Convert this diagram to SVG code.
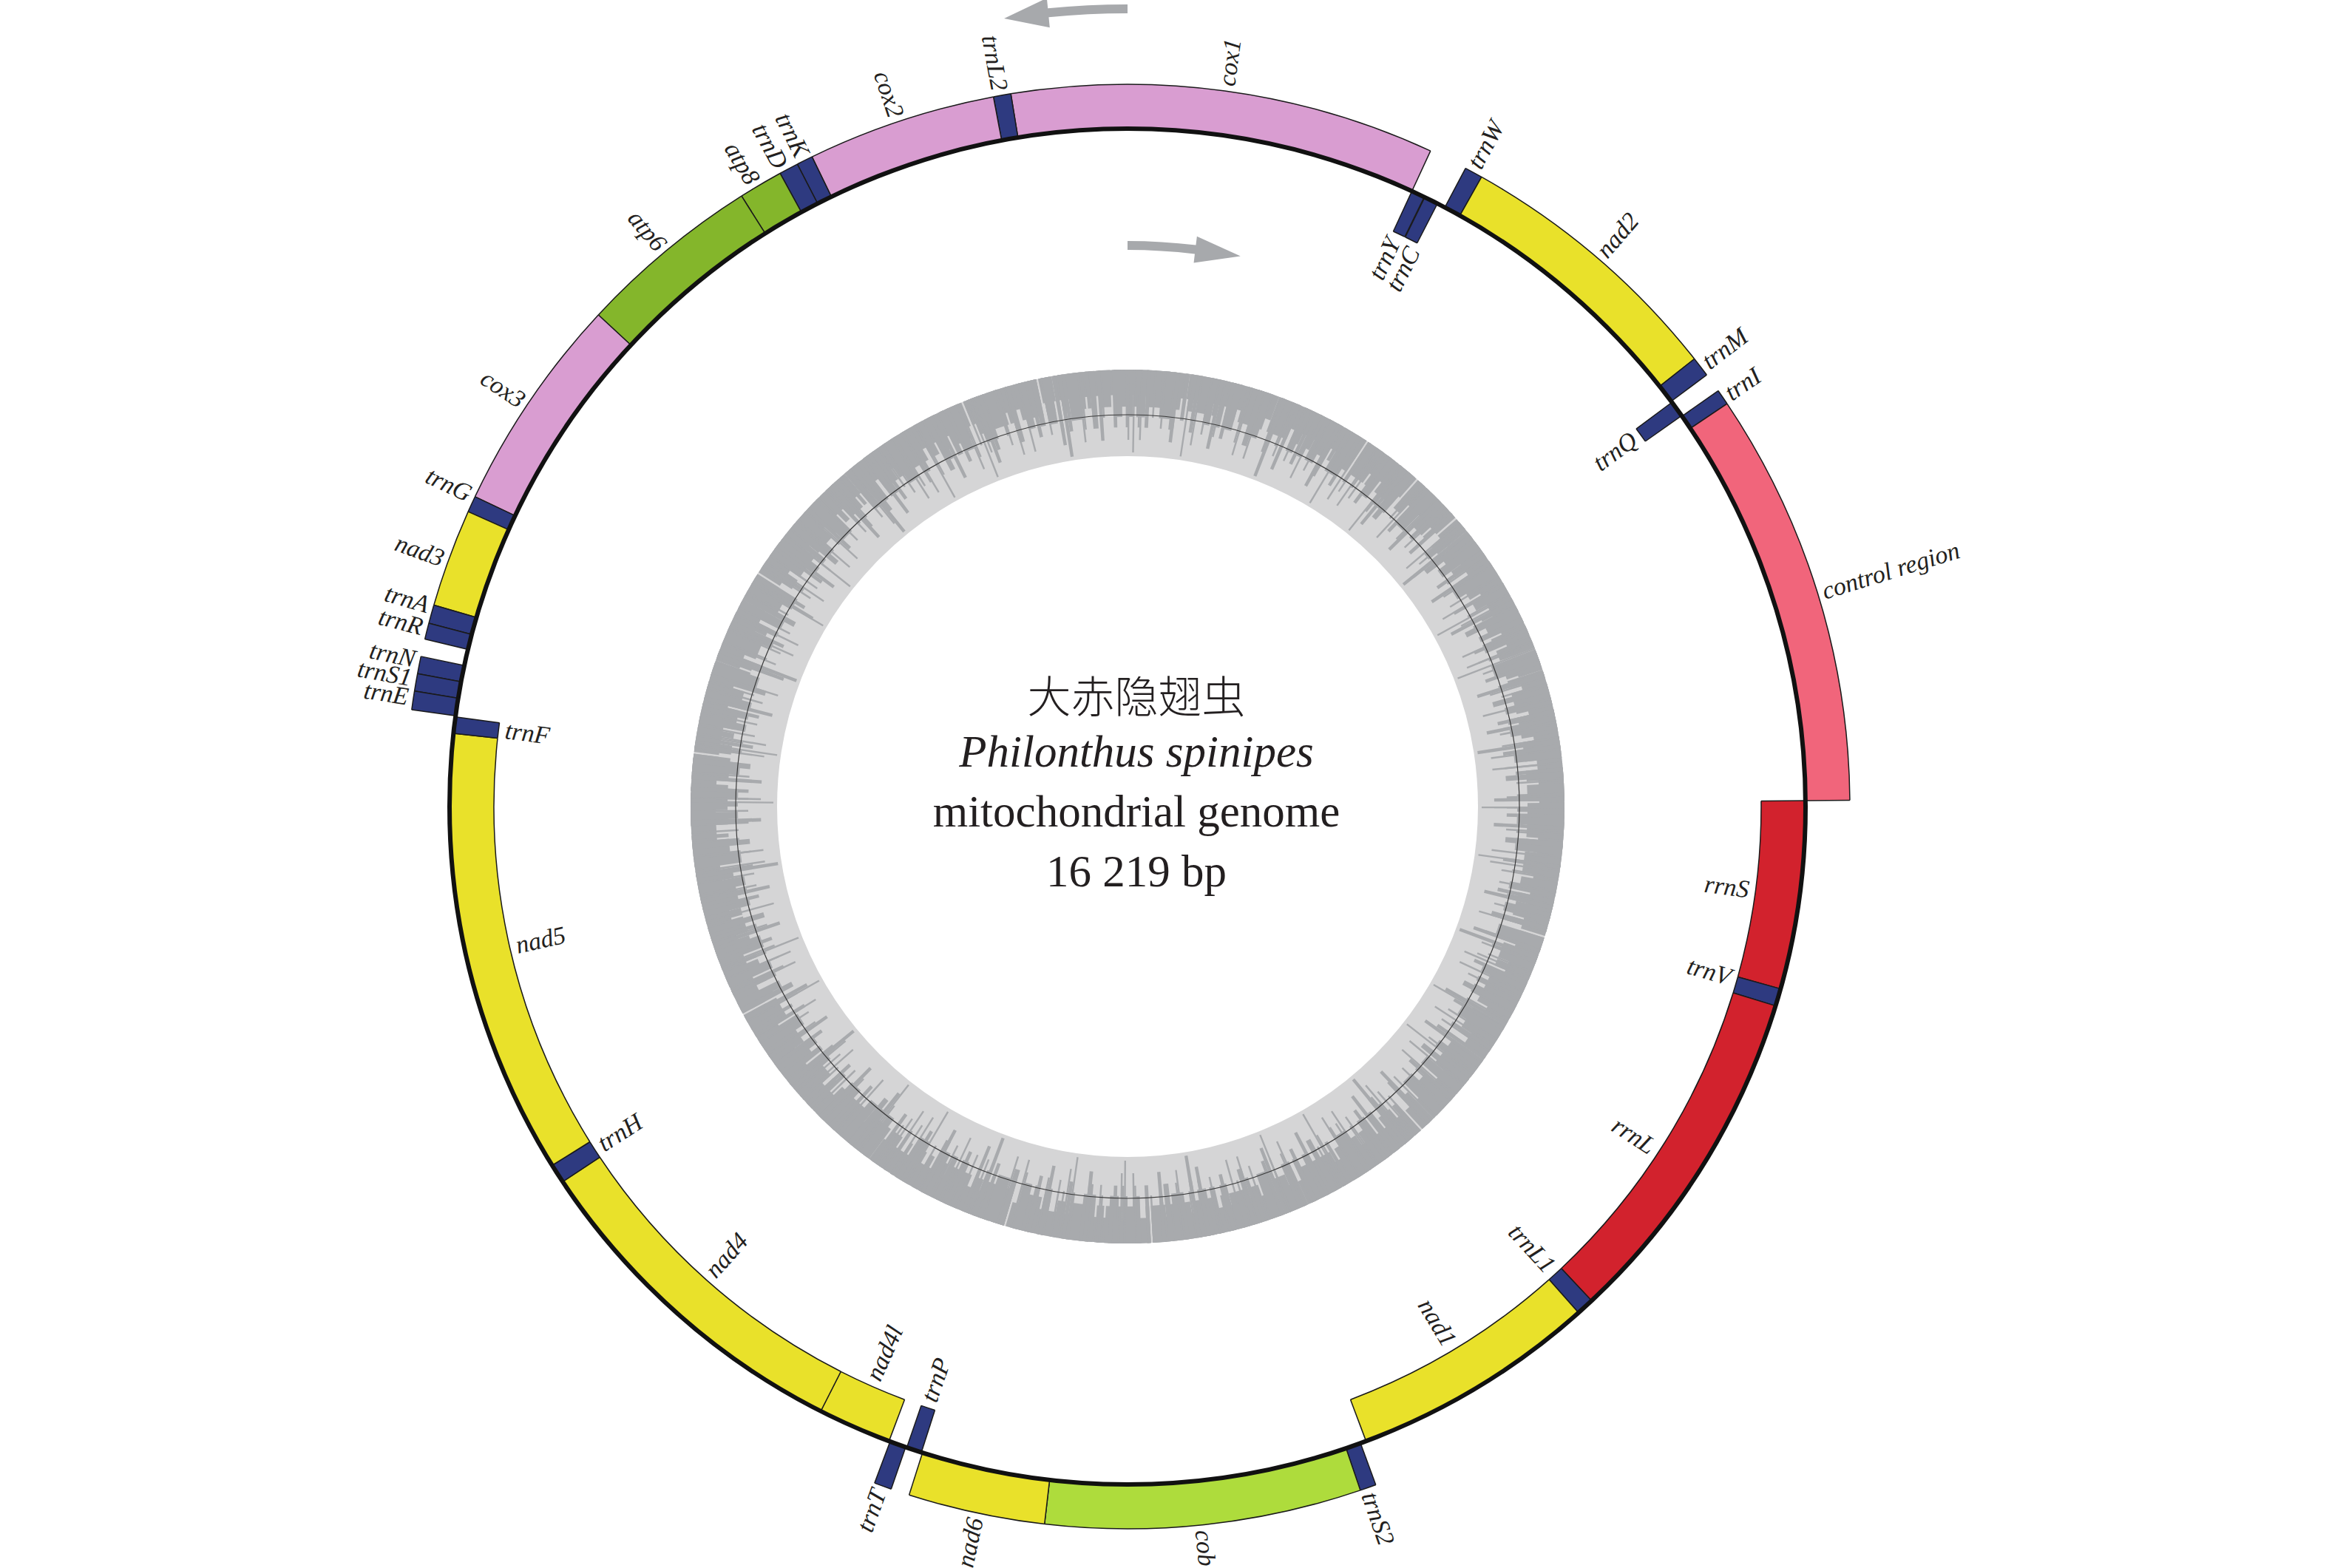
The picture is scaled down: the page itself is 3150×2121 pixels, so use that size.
<svg xmlns="http://www.w3.org/2000/svg" width="3150" height="2121" viewBox="0 0 3150 2121">
<style>
.lbl{font-family:"Liberation Serif","Times New Roman",serif;font-style:italic;font-size:34px;fill:#231f20;dominant-baseline:central}
.ttl{font-family:"Liberation Serif","Times New Roman",serif;font-size:61px;fill:#231f20;text-anchor:middle}
.cjk{font-family:"Noto Sans CJK SC","Noto Sans CJK TC",sans-serif;font-size:59px;font-weight:300;fill:#231f20;text-anchor:middle}
.pk{stroke:#d99dd1}.gr{stroke:#84b62b}.yl{stroke:#e9e12a}.cb{stroke:#aedc3c}.tr{stroke:#2e3a80}.rr{stroke:#d2222d}.cr{stroke:#f1657b}
.gc{fill:none;stroke:#a8aaad}
.arw{fill:#a7a9ac}
</style>
<defs>
<circle id="fo" cx="1525" cy="1091" r="947" pathLength="360" fill="none" stroke-width="60"/>
<circle id="fi" cx="1525" cy="1091" r="887" pathLength="360" fill="none" stroke-width="60"/>
<circle id="eo" cx="1525" cy="1091" r="977" pathLength="360" fill="none" stroke="#1a1a1a" stroke-width="1.5"/>
<circle id="ei" cx="1525" cy="1091" r="857" pathLength="360" fill="none" stroke="#1a1a1a" stroke-width="1.5"/>
<line id="lo" x1="2442" y1="1091" x2="2502" y2="1091" stroke="#1a1a1a" stroke-width="1.5" stroke-dasharray="none"/>
<line id="li" x1="2382" y1="1091" x2="2442" y2="1091" stroke="#1a1a1a" stroke-width="1.5" stroke-dasharray="none"/>
</defs>
<rect width="3150" height="2121" fill="#ffffff"/>

<g id="gc-ring">
<circle cx="1525" cy="1091" r="532.5" fill="none" stroke="#d5d5d6" stroke-width="117"/>
<circle class="gc" cx="1525" cy="1091" r="574" stroke-width="34" pathLength="1400" stroke-dasharray="19 1 11 1 27 1 7 1 33 1 15 1"/>
<circle class="gc" cx="1525" cy="1091" r="566" stroke-width="50" pathLength="1400" stroke-dasharray="6 2 9 1 4 3 12 2 5 4 3 2 8 1 2 5"/>
<circle class="gc" cx="1525" cy="1091" r="559" stroke-width="64" pathLength="1400" stroke-dasharray="3 2 5 4 1 3 7 5 2 4 1 6 4 3"/>
<circle class="gc" cx="1525" cy="1091" r="552" stroke-width="78" pathLength="1400" stroke-dasharray="1 3 2 7 1 4 3 9 2 5 1 6"/>
<circle class="gc" cx="1525" cy="1091" r="543.5" stroke-width="95" pathLength="1400" stroke-dasharray="1 9 2 14 1 6 1 17 2 11"/>
<circle class="gc" cx="1525" cy="1091" r="535" stroke-width="112" pathLength="1400" stroke-dasharray="1 29 1 47 2 37"/>
<circle cx="1525" cy="1091" r="530" fill="none" stroke="#3a3a3a" stroke-width="1.2"/>
</g>

<g id="arrows">
<path class="arw" d="M1525,6 A1085,1085 0 0 0 1417.24,11.36 L1415.85,-2.57 L1358.07,24.99 L1419.82,37.23 L1418.43,23.30 A1073,1073 0 0 1 1525,18 Z"/>
<path class="arw" d="M1525,326 A765,765 0 0 1 1617.43,331.61 L1618.88,319.70 L1677.82,346.52 L1614.54,355.43 L1615.98,343.52 A753,753 0 0 0 1525,338 Z"/>
</g>

<!-- outer (J-strand) genes -->
<g id="cox1"><g transform="rotate(-99.3 1525 1091)" stroke-dasharray="34.1 400"><use href="#fo" class="pk"/><use href="#eo"/><use href="#lo"/><use href="#lo" transform="rotate(34.1 1525 1091)"/></g><text class="lbl" transform="rotate(-82.2 1525 1091)" x="2509" y="1091">cox1</text></g>
<g id="trnL2"><g transform="rotate(-100.7 1525 1091)" stroke-dasharray="1.4 400"><use href="#fo" class="tr"/><use href="#eo"/><use href="#lo"/><use href="#lo" transform="rotate(1.4 1525 1091)"/></g><text class="lbl" text-anchor="end" transform="rotate(79.9 1525 1091)" x="541" y="1091">trnL2</text></g>
<g id="cox2"><g transform="rotate(-115.9 1525 1091)" stroke-dasharray="15.2 400"><use href="#fo" class="pk"/><use href="#eo"/><use href="#lo"/><use href="#lo" transform="rotate(15.2 1525 1091)"/></g><text class="lbl" text-anchor="end" transform="rotate(71.5 1525 1091)" x="541" y="1091">cox2</text></g>
<g id="trnK"><g transform="rotate(-117.2 1525 1091)" stroke-dasharray="1.3 400"><use href="#fo" class="tr"/><use href="#eo"/><use href="#lo"/><use href="#lo" transform="rotate(1.3 1525 1091)"/></g><text class="lbl" text-anchor="end" transform="rotate(63.5 1525 1091)" x="541" y="1091">trnK</text></g>
<g id="trnD"><g transform="rotate(-118.75 1525 1091)" stroke-dasharray="1.55 400"><use href="#fo" class="tr"/><use href="#eo"/><use href="#lo"/><use href="#lo" transform="rotate(1.55 1525 1091)"/></g><text class="lbl" text-anchor="end" transform="rotate(61.6 1525 1091)" x="541" y="1091">trnD</text></g>
<g id="atp8"><g transform="rotate(-122.3 1525 1091)" stroke-dasharray="3.55 400"><use href="#fo" class="gr"/><use href="#eo"/><use href="#lo"/><use href="#lo" transform="rotate(3.55 1525 1091)"/></g><text class="lbl" text-anchor="end" transform="rotate(59.1 1525 1091)" x="541" y="1091">atp8</text></g>
<g id="atp6"><g transform="rotate(-137.1 1525 1091)" stroke-dasharray="14.8 400"><use href="#fo" class="gr"/><use href="#eo"/><use href="#lo"/><use href="#lo" transform="rotate(14.8 1525 1091)"/></g><text class="lbl" text-anchor="end" transform="rotate(50.2 1525 1091)" x="541" y="1091">atp6</text></g>
<g id="cox3"><g transform="rotate(-154.6 1525 1091)" stroke-dasharray="17.5 400"><use href="#fo" class="pk"/><use href="#eo"/><use href="#lo"/><use href="#lo" transform="rotate(17.5 1525 1091)"/></g><text class="lbl" text-anchor="end" transform="rotate(33.8 1525 1091)" x="541" y="1091">cox3</text></g>
<g id="trnG"><g transform="rotate(-155.9 1525 1091)" stroke-dasharray="1.3 400"><use href="#fo" class="tr"/><use href="#eo"/><use href="#lo"/><use href="#lo" transform="rotate(1.3 1525 1091)"/></g><text class="lbl" text-anchor="end" transform="rotate(25.4 1525 1091)" x="541" y="1091">trnG</text></g>
<g id="nad3"><g transform="rotate(-163.8 1525 1091)" stroke-dasharray="7.9 400"><use href="#fo" class="yl"/><use href="#eo"/><use href="#lo"/><use href="#lo" transform="rotate(7.9 1525 1091)"/></g><text class="lbl" text-anchor="end" transform="rotate(19.9 1525 1091)" x="541" y="1091">nad3</text></g>
<g id="trnA"><g transform="rotate(-165.3 1525 1091)" stroke-dasharray="1.5 400"><use href="#fo" class="tr"/><use href="#eo"/><use href="#lo"/><use href="#lo" transform="rotate(1.5 1525 1091)"/></g><text class="lbl" text-anchor="end" transform="rotate(16.1 1525 1091)" x="541" y="1091">trnA</text></g>
<g id="trnR"><g transform="rotate(-166.6 1525 1091)" stroke-dasharray="1.3 400"><use href="#fo" class="tr"/><use href="#eo"/><use href="#lo"/><use href="#lo" transform="rotate(1.3 1525 1091)"/></g><text class="lbl" text-anchor="end" transform="rotate(14.3 1525 1091)" x="541" y="1091">trnR</text></g>
<g id="trnN"><g transform="rotate(-169.4 1525 1091)" stroke-dasharray="1.4 400"><use href="#fo" class="tr"/><use href="#eo"/><use href="#lo"/><use href="#lo" transform="rotate(1.4 1525 1091)"/></g><text class="lbl" text-anchor="end" transform="rotate(11.7 1525 1091)" x="541" y="1091">trnN</text></g>
<g id="trnS1"><g transform="rotate(-170.8 1525 1091)" stroke-dasharray="1.4 400"><use href="#fo" class="tr"/><use href="#eo"/><use href="#lo"/><use href="#lo" transform="rotate(1.4 1525 1091)"/></g><text class="lbl" text-anchor="end" transform="rotate(10.2 1525 1091)" x="541" y="1091">trnS1</text></g>
<g id="trnE"><g transform="rotate(-172.3 1525 1091)" stroke-dasharray="1.5 400"><use href="#fo" class="tr"/><use href="#eo"/><use href="#lo"/><use href="#lo" transform="rotate(1.5 1525 1091)"/></g><text class="lbl" text-anchor="end" transform="rotate(8.7 1525 1091)" x="541" y="1091">trnE</text></g>
<g id="trnW"><g transform="rotate(-62.1 1525 1091)" stroke-dasharray="1.45 400"><use href="#fo" class="tr"/><use href="#eo"/><use href="#lo"/><use href="#lo" transform="rotate(1.45 1525 1091)"/></g><text class="lbl" transform="rotate(-61.6 1525 1091)" x="2509" y="1091">trnW</text></g>
<g id="nad2"><g transform="rotate(-60.65 1525 1091)" stroke-dasharray="22.35 400"><use href="#fo" class="yl"/><use href="#eo"/><use href="#lo"/><use href="#lo" transform="rotate(22.35 1525 1091)"/></g><text class="lbl" transform="rotate(-49.4 1525 1091)" x="2509" y="1091">nad2</text></g>
<g id="trnM"><g transform="rotate(-38.3 1525 1091)" stroke-dasharray="1.6 400"><use href="#fo" class="tr"/><use href="#eo"/><use href="#lo"/><use href="#lo" transform="rotate(1.6 1525 1091)"/></g><text class="lbl" transform="rotate(-37.5 1525 1091)" x="2509" y="1091">trnM</text></g>
<g id="trnI"><g transform="rotate(-35.15 1525 1091)" stroke-dasharray="1.25 400"><use href="#fo" class="tr"/><use href="#eo"/><use href="#lo"/><use href="#lo" transform="rotate(1.25 1525 1091)"/></g><text class="lbl" transform="rotate(-34.5 1525 1091)" x="2509" y="1091">trnI</text></g>
<g id="control-region"><g transform="rotate(-33.9 1525 1091)" stroke-dasharray="33.4 400"><use href="#fo" class="cr"/><use href="#eo"/><use href="#lo"/><use href="#lo" transform="rotate(33.4 1525 1091)"/></g><text class="lbl" transform="rotate(-17.2 1525 1091)" x="2509" y="1091">control region</text></g>
<g id="trnS2"><g transform="rotate(69.9 1525 1091)" stroke-dasharray="1.3 400"><use href="#fo" class="tr"/><use href="#eo"/><use href="#lo"/><use href="#lo" transform="rotate(1.3 1525 1091)"/></g><text class="lbl" transform="rotate(70.6 1525 1091)" x="2509" y="1091">trnS2</text></g>
<g id="cob"><g transform="rotate(71.2 1525 1091)" stroke-dasharray="25.4 400"><use href="#fo" class="cb"/><use href="#eo"/><use href="#lo"/><use href="#lo" transform="rotate(25.4 1525 1091)"/></g><text class="lbl" transform="rotate(84 1525 1091)" x="2509" y="1091">cob</text></g>
<g id="nad6"><g transform="rotate(96.6 1525 1091)" stroke-dasharray="11 400"><use href="#fo" class="yl"/><use href="#eo"/><use href="#lo"/><use href="#lo" transform="rotate(11 1525 1091)"/></g><text class="lbl" text-anchor="end" transform="rotate(282.1 1525 1091)" x="541" y="1091">nad6</text></g>
<g id="trnT"><g transform="rotate(109.1 1525 1091)" stroke-dasharray="1.4 400"><use href="#fo" class="tr"/><use href="#eo"/><use href="#lo"/><use href="#lo" transform="rotate(1.4 1525 1091)"/></g><text class="lbl" text-anchor="end" transform="rotate(290 1525 1091)" x="541" y="1091">trnT</text></g>

<!-- inner (N-strand) genes -->
<g id="trnY"><g transform="rotate(-65.2 1525 1091)" stroke-dasharray="1.15 400"><use href="#fi" class="tr"/><use href="#ei"/><use href="#li"/><use href="#li" transform="rotate(1.15 1525 1091)"/></g><text class="lbl" text-anchor="end" transform="rotate(-64.9 1525 1091)" x="2373" y="1091">trnY</text></g>
<g id="trnC"><g transform="rotate(-64 1525 1091)" stroke-dasharray="1.2 400"><use href="#fi" class="tr"/><use href="#ei"/><use href="#li"/><use href="#li" transform="rotate(1.2 1525 1091)"/></g><text class="lbl" text-anchor="end" transform="rotate(-62.9 1525 1091)" x="2373" y="1091">trnC</text></g>
<g id="trnQ"><g transform="rotate(-36.6 1525 1091)" stroke-dasharray="1.4 400"><use href="#fi" class="tr"/><use href="#ei"/><use href="#li"/><use href="#li" transform="rotate(1.4 1525 1091)"/></g><text class="lbl" text-anchor="end" transform="rotate(-36.1 1525 1091)" x="2373" y="1091">trnQ</text></g>
<g id="rrnS"><g transform="rotate(-0.5 1525 1091)" stroke-dasharray="16.1 400"><use href="#fi" class="rr"/><use href="#ei"/><use href="#li"/><use href="#li" transform="rotate(16.1 1525 1091)"/></g><text class="lbl" text-anchor="end" transform="rotate(7.6 1525 1091)" x="2373" y="1091">rrnS</text></g>
<g id="trnV"><g transform="rotate(15.6 1525 1091)" stroke-dasharray="1.5 400"><use href="#fi" class="tr"/><use href="#ei"/><use href="#li"/><use href="#li" transform="rotate(1.5 1525 1091)"/></g><text class="lbl" text-anchor="end" transform="rotate(15.8 1525 1091)" x="2373" y="1091">trnV</text></g>
<g id="rrnL"><g transform="rotate(17.1 1525 1091)" stroke-dasharray="29.7 400"><use href="#fi" class="rr"/><use href="#ei"/><use href="#li"/><use href="#li" transform="rotate(29.7 1525 1091)"/></g><text class="lbl" text-anchor="end" transform="rotate(33 1525 1091)" x="2373" y="1091">rrnL</text></g>
<g id="trnL1"><g transform="rotate(46.8 1525 1091)" stroke-dasharray="1.5 400"><use href="#fi" class="tr"/><use href="#ei"/><use href="#li"/><use href="#li" transform="rotate(1.5 1525 1091)"/></g><text class="lbl" text-anchor="end" transform="rotate(47.5 1525 1091)" x="2373" y="1091">trnL1</text></g>
<g id="nad1"><g transform="rotate(48.3 1525 1091)" stroke-dasharray="21.1 400"><use href="#fi" class="yl"/><use href="#ei"/><use href="#li"/><use href="#li" transform="rotate(21.1 1525 1091)"/></g><text class="lbl" text-anchor="end" transform="rotate(59 1525 1091)" x="2373" y="1091">nad1</text></g>
<g id="trnP"><g transform="rotate(107.7 1525 1091)" stroke-dasharray="1.3 400"><use href="#fi" class="tr"/><use href="#ei"/><use href="#li"/><use href="#li" transform="rotate(1.3 1525 1091)"/></g><text class="lbl" transform="rotate(288.5 1525 1091)" x="677" y="1091">trnP</text></g>
<g id="nad4l"><g transform="rotate(110.6 1525 1091)" stroke-dasharray="6.3 400"><use href="#fi" class="yl"/><use href="#ei"/><use href="#li"/><use href="#li" transform="rotate(6.3 1525 1091)"/></g><text class="lbl" transform="rotate(294 1525 1091)" x="677" y="1091">nad4l</text></g>
<g id="nad4"><g transform="rotate(116.9 1525 1091)" stroke-dasharray="29.5 400"><use href="#fi" class="yl"/><use href="#ei"/><use href="#li"/><use href="#li" transform="rotate(29.5 1525 1091)"/></g><text class="lbl" transform="rotate(311.8 1525 1091)" x="677" y="1091">nad4</text></g>
<g id="trnH"><g transform="rotate(146.4 1525 1091)" stroke-dasharray="1.65 400"><use href="#fi" class="tr"/><use href="#ei"/><use href="#li"/><use href="#li" transform="rotate(1.65 1525 1091)"/></g><text class="lbl" transform="rotate(327.3 1525 1091)" x="677" y="1091">trnH</text></g>
<g id="nad5"><g transform="rotate(148.05 1525 1091)" stroke-dasharray="38.15 400"><use href="#fi" class="yl"/><use href="#ei"/><use href="#li"/><use href="#li" transform="rotate(38.15 1525 1091)"/></g><text class="lbl" transform="rotate(347.2 1525 1091)" x="677" y="1091">nad5</text></g>
<g id="trnF"><g transform="rotate(186.2 1525 1091)" stroke-dasharray="1.4 400"><use href="#fi" class="tr"/><use href="#ei"/><use href="#li"/><use href="#li" transform="rotate(1.4 1525 1091)"/></g><text class="lbl" transform="rotate(7 1525 1091)" x="677" y="1091">trnF</text></g>

<circle id="genome-circle" cx="1525" cy="1091" r="917" fill="none" stroke="#111111" stroke-width="6"/>

<g id="title">
<text class="cjk" x="1537" y="964">大赤隐翅虫</text>
<text class="ttl" x="1537" y="1037" font-style="italic">Philonthus spinipes</text>
<text class="ttl" x="1537" y="1118">mitochondrial genome</text>
<text class="ttl" x="1537" y="1199">16 219 bp</text>
</g>
</svg>
